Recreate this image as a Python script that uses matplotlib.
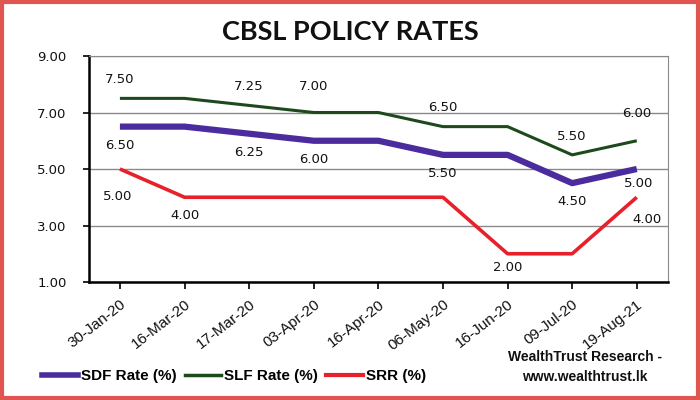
import numpy as np
import matplotlib.pyplot as plt
from matplotlib.patches import Rectangle
from matplotlib.lines import Line2D

dates = ['30-Jan-20', '16-Mar-20', '17-Mar-20', '03-Apr-20', '16-Apr-20',
         '06-May-20', '16-Jun-20', '09-Jul-20', '19-Aug-21']
sdf = [6.50, 6.50, 6.25, 6.00, 6.00, 5.50, 5.50, 4.50, 5.00]
slf = [7.50, 7.50, 7.25, 7.00, 7.00, 6.50, 6.50, 5.50, 6.00]
srr = [5.00, 4.00, 4.00, 4.00, 4.00, 4.00, 2.00, 2.00, 4.00]

# which points carry a value label, and pixel offset of the label
slf_labels = {0: (0, 19), 2: (0, 19), 3: (0, 26), 5: (0, 19), 7: (0, 18), 8: (0, 27)}
sdf_labels = {0: (0, -19), 2: (0, -19), 3: (0, -19), 5: (0, -19), 7: (0, -18), 8: (2, -14)}
srr_labels = {0: (-2, -27), 1: (0, -18), 6: (0, -14), 8: (10, -22)}

c_sdf = '#4a2c9e'
c_slf = '#1c4a1c'
c_srr = '#e8202a'

fig = plt.figure(figsize=(7, 4), dpi=100)
fig.patches.append(Rectangle((0.003, 0.004), 0.994, 0.992, transform=fig.transFigure,
                             fill=False, edgecolor='#e05550', linewidth=3))

ax = fig.add_axes([0.127, 0.295, 0.827, 0.565])
x = np.arange(len(dates))

ax.plot(x, sdf, color=c_sdf, linewidth=4.5, solid_capstyle='butt', zorder=3)
ax.plot(x, slf, color=c_slf, linewidth=2.2, solid_capstyle='butt', zorder=3)
ax.plot(x, srr, color=c_srr, linewidth=2.6, solid_capstyle='butt', zorder=3)

for series, labs in ((slf, slf_labels), (sdf, sdf_labels), (srr, srr_labels)):
    for i, (dx, dy) in labs.items():
        ax.annotate('%.2f' % series[i], (x[i], series[i]), xytext=(dx, dy),
                    textcoords='offset pixels', ha='center', va='center',
                    fontsize=9.5, color='#111111', family='DejaVu Sans')

ax.set_xlim(-0.48, len(dates) - 0.52)
ax.set_ylim(1, 9)
ax.set_yticks([1, 3, 5, 7, 9])
ax.set_yticklabels(['%.2f' % v for v in [1, 3, 5, 7, 9]], fontsize=9.5,
                   family='DejaVu Sans', color='#111111')
ax.yaxis.grid(True, color='#8a8a8a', linewidth=1)
ax.set_axisbelow(True)

ax.set_xticks(x)
ax.set_xticklabels(dates, rotation=38, ha='right', rotation_mode='anchor',
                   fontsize=11, family='Liberation Sans', color='#111111')
ax.tick_params(axis='x', length=5, width=1.2, pad=6)
ax.tick_params(axis='y', length=4, width=1.2, pad=12)

ax.spines['left'].set_linewidth(1.8)
ax.spines['bottom'].set_linewidth(1.8)
ax.spines['top'].set_color('#8a8a8a')
ax.spines['right'].set_color('#8a8a8a')

fig.text(0.50, 0.92, 'CBSL POLICY RATES', ha='center', va='center',
         fontsize=19.5, fontweight='bold', family='Lato', color='#111111')

handles = [Line2D([], [], color=c_sdf, linewidth=4),
           Line2D([], [], color=c_slf, linewidth=2.5),
           Line2D([], [], color=c_srr, linewidth=3)]
fig.legend(handles, ['SDF Rate (%)', 'SLF Rate (%)', 'SRR (%)'], loc='center left',
           bbox_to_anchor=(0.04, 0.06), ncol=3, frameon=False, handlelength=2.4,
           handletextpad=0.2, columnspacing=0.5,
           prop={'family': 'Liberation Sans', 'size': 11, 'weight': 'bold'})

fig.text(0.835, 0.107, 'WealthTrust Research -', ha='center', va='center',
         fontsize=10, fontweight='bold', family='Liberation Sans', color='#111111')
fig.text(0.835, 0.058, 'www.wealthtrust.lk', ha='center', va='center',
         fontsize=10, fontweight='bold', family='Liberation Sans', color='#111111')

fig.savefig('out.png', dpi=100)
